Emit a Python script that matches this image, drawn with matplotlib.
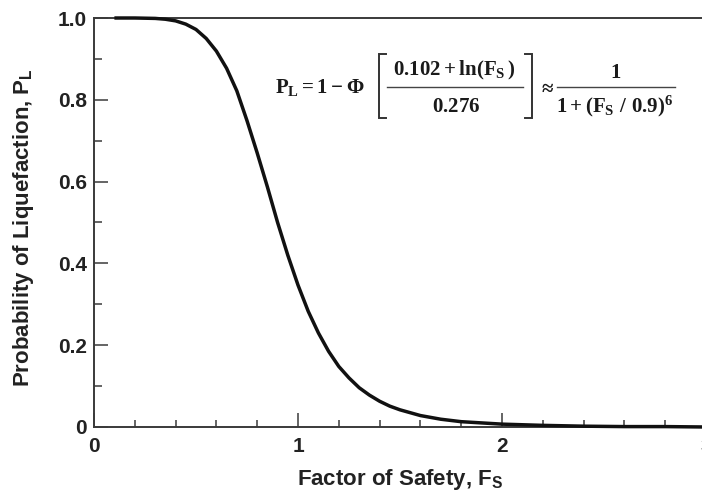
import matplotlib
matplotlib.use("Agg")
import matplotlib.pyplot as plt
from matplotlib.lines import Line2D
from matplotlib.ticker import MultipleLocator, FixedLocator

# Values
factor_of_safety = [0.10, 0.20, 0.30, 0.35, 0.40, 0.45, 0.50, 0.55, 0.60, 0.65,
                    0.70, 0.75, 0.80, 0.85, 0.90, 0.95, 1.00, 1.05, 1.10, 1.15,
                    1.20, 1.25, 1.30, 1.35, 1.40, 1.45, 1.50, 1.60, 1.70, 1.80,
                    1.90, 2.00, 2.20, 2.40, 2.60, 2.80, 3.00]
prob_liquefaction = [1.000, 1.000, 0.999, 0.997, 0.993, 0.985, 0.972, 0.950, 0.919, 0.877,
                     0.822, 0.749, 0.670, 0.587, 0.500, 0.420, 0.347, 0.283, 0.230, 0.185,
                     0.148, 0.120, 0.096, 0.078, 0.063, 0.051, 0.042, 0.028, 0.019, 0.013,
                     0.010, 0.007, 0.004, 0.002, 0.001, 0.001, 0.000]
x_ticks = [0, 1, 2, 3]
x_tick_labels = ["0", "1", "2", "3"]
y_ticks = [0, 0.2, 0.4, 0.6, 0.8, 1.0]
y_tick_labels = ["0", "0.2", "0.4", "0.6", "0.8", "1.0"]

plt.rcParams['font.family'] = ['Liberation Sans', 'DejaVu Sans']
plt.rcParams['mathtext.fontset'] = 'custom'
plt.rcParams['mathtext.rm'] = 'Liberation Serif:bold'
plt.rcParams['mathtext.it'] = 'Liberation Serif:bold'
plt.rcParams['mathtext.bf'] = 'Liberation Serif:bold'
plt.rcParams['mathtext.sf'] = 'Liberation Sans:bold'

W, H = 702, 495
fig = plt.figure(figsize=(W / 100, H / 100), dpi=100)
ax = fig.add_axes([94 / W, 1 - 427 / H, (706 - 94) / W, (427 - 18) / H])


def fx(px):
    return px / W


def fy(py):
    return 1 - py / H


spine_col = '#3a3a3a'
ink = '#1a1a1a'
ax.plot(factor_of_safety, prob_liquefaction, color='#111111', lw=2.5,
        solid_capstyle='butt', clip_on=False, zorder=3)

ax.set_xlim(0, 3)
ax.set_ylim(0, 1)
for s in ['left', 'bottom', 'top']:
    ax.spines[s].set_color(spine_col)
    ax.spines[s].set_linewidth(1.4)
ax.spines['right'].set_visible(False)

ax.xaxis.set_major_locator(FixedLocator(x_ticks))
ax.set_xticklabels(x_tick_labels)
ax.yaxis.set_major_locator(FixedLocator(y_ticks))
ax.set_yticklabels(y_tick_labels)
ax.xaxis.set_minor_locator(MultipleLocator(0.2))
ax.yaxis.set_minor_locator(MultipleLocator(0.1))
ax.tick_params(axis='x', which='major', direction='in', length=10, width=1.1,
               color=spine_col, pad=7, labelsize=15, top=False)
ax.tick_params(axis='x', which='minor', direction='in', length=5, width=1.1,
               color=spine_col, top=False)
ax.tick_params(axis='y', which='major', direction='in', length=10, width=1.1,
               color=spine_col, pad=5, labelsize=15, right=False)
ax.tick_params(axis='y', which='minor', direction='in', length=5.5, width=1.1,
               color=spine_col, right=False)
for lab in ax.get_xticklabels() + ax.get_yticklabels():
    lab.set_fontweight('bold')
    lab.set_color('#222222')

fig.text(fx(400), fy(480), r'Factor of Safety, F$_\mathsf{S}$', ha='center', va='center',
         fontsize=16, fontweight='bold', color='#222222')
fig.text(fx(24), fy(228), r'Probability of Liquefaction, P$_\mathsf{L}$', ha='center',
         va='center', rotation=90, fontsize=16, fontweight='bold', color='#222222')

# Formula, assembled piece by piece
fs = 15
fig.text(fx(275), fy(93), r'$P_L = 1 - \Phi$', ha='left', va='baseline',
         fontsize=fs, color=ink)
fig.text(fx(454.5), fy(75), r'$0.102 + \ln(F_S\,)$', ha='center', va='baseline',
         fontsize=fs, color=ink)
fig.text(fx(456), fy(112), r'$0.276$', ha='center', va='baseline', fontsize=fs, color=ink)
fig.text(fx(546), fy(88), r'$\approx$', ha='center', va='center', fontsize=fs, color=ink)
fig.text(fx(616), fy(78), r'$1$', ha='center', va='baseline', fontsize=fs, color=ink)
fig.text(fx(615), fy(112), r'$1 + (F_S\ /\ 0.9)^6$', ha='center', va='baseline',
         fontsize=fs, color=ink)

lw_frac = 1.0
for x0, x1 in [(387, 523), (557, 675)]:
    fig.add_artist(Line2D([fx(x0), fx(x1)], [fy(87), fy(87)], color='#444444',
                          lw=lw_frac))
# brackets
for xv, xa in [(379, 386), (532, 525)]:
    fig.add_artist(Line2D([fx(xa), fx(xv), fx(xv), fx(xa)],
                          [fy(54), fy(54), fy(118), fy(118)], color='#333333',
                          lw=1.4, solid_joinstyle='miter'))

fig.savefig('out.png', dpi=100)
